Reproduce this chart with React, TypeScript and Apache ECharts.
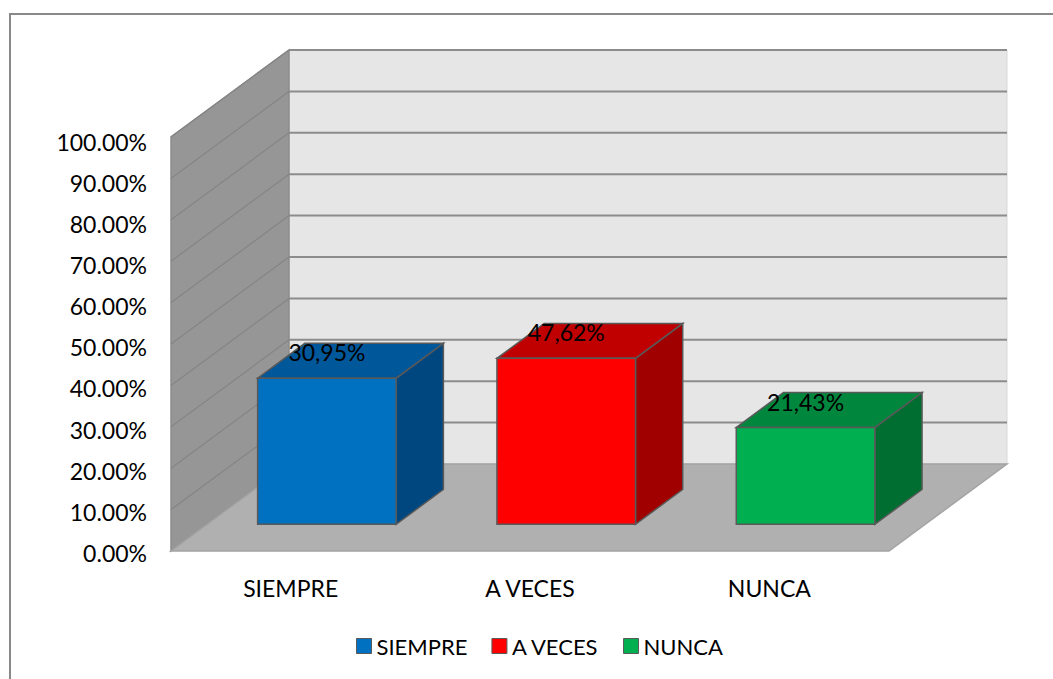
import React, { useEffect, useRef } from "react";
import * as echarts from "echarts";

// ---- data ----
const CATEGORIES: string[] = ["SIEMPRE", "A VECES", "NUNCA"];
const VALUES: number[] = [35.3, 40.1, 23.4];
const LABELS: string[] = ["30,95%", "47,62%", "21,43%"];
const Y_TICKS: number[] = [0, 10, 20, 30, 40, 50, 60, 70, 80, 90, 100];

// ---- styles ----
const FRONT_COLORS = ["#0070C0", "#FF0000", "#00B050"];
const TOP_COLORS = ["#00579A", "#C00000", "#00873D"];
const SIDE_COLORS = ["#00477F", "#A00000", "#006E30"];
const FONT = "Lato, 'Open Sans', sans-serif";
const FONT_SIZE = 23;
const DX = 118; // depth projection
const DY = 87;
const BAR_FRONT = 0.307;
const BAR_BACK = 0.707;
const BAR_WIDTH = 0.579;

export default function App() {
  const ref = useRef<HTMLDivElement>(null);

  useEffect(() => {
    document.body.style.margin = "0";
    if (!ref.current) return;
    const chart = echarts.init(ref.current, undefined, { renderer: "svg" });

    const wallsSeries: any = {
      type: "custom",
      name: "walls",
      coordinateSystem: "cartesian2d",
      xAxisIndex: 0,
      yAxisIndex: 0,
      silent: true,
      clip: false,
      z: 1,
      data: [[0, 0]],
      renderItem: (params: any, api: any) => {
        const cs = params.coordSys;
        const x0 = cs.x;
        const x1 = cs.x + cs.width;
        const yOf = (v: number) => api.coord([0, v])[1];
        const yb = yOf(0);
        const yt = yOf(100);
        const children: any[] = [];
        // back wall
        children.push({
          type: "polygon",
          shape: {
            points: [
              [x0 + DX, yt - DY],
              [x1 + DX, yt - DY],
              [x1 + DX, yb - DY],
              [x0 + DX, yb - DY],
            ],
          },
          style: { fill: "#E6E6E6", stroke: "#D9D9D9", lineWidth: 1 },
        });
        // left wall
        children.push({
          type: "polygon",
          shape: {
            points: [
              [x0, yb],
              [x0, yt],
              [x0 + DX, yt - DY],
              [x0 + DX, yb - DY],
            ],
          },
          style: { fill: "#969696", stroke: "#8C8C8C", lineWidth: 1.5 },
        });
        // floor
        children.push({
          type: "polygon",
          shape: {
            points: [
              [x0, yb],
              [x1, yb],
              [x1 + DX, yb - DY],
              [x0 + DX, yb - DY],
            ],
          },
          style: { fill: "#B0B0B0", stroke: "#A3A3A3", lineWidth: 1.5 },
        });
        // gridlines
        Y_TICKS.forEach((t) => {
          if (t === 0) return;
          const y = yOf(t);
          children.push({
            type: "line",
            shape: { x1: x0 + DX, y1: y - DY, x2: x1 + DX, y2: y - DY },
            style: { stroke: "#8C8C8C", lineWidth: 2 },
          });
          children.push({
            type: "line",
            shape: { x1: x0, y1: y, x2: x0 + DX, y2: y - DY },
            style: { stroke: "#858585", lineWidth: 1.2 },
          });
        });
        return { type: "group", children };
      },
    };

    const barSeries = CATEGORIES.map((name, i) => ({
      type: "custom",
      name,
      coordinateSystem: "cartesian2d",
      xAxisIndex: 0,
      yAxisIndex: 0,
      clip: false,
      z: 2,
      itemStyle: { color: FRONT_COLORS[i] },
      data: [[i, VALUES[i]]],
      renderItem: (params: any, api: any) => {
        const idx = api.value(0);
        const v = api.value(1);
        const base = api.coord([idx, 0]);
        const top = api.coord([idx, v]);
        const band = api.size([1, 0])[0];
        const w = band * BAR_WIDTH;
        const xl = base[0] - w / 2;
        const xr = base[0] + w / 2;
        const fx = DX * BAR_FRONT;
        const fy = DY * BAR_FRONT;
        const bx = DX * BAR_BACK;
        const by = DY * BAR_BACK;
        const y0 = base[1];
        const y1 = top[1];
        const stroke = "#595959";
        return {
          type: "group",
          children: [
            {
              type: "polygon",
              shape: {
                points: [
                  [xr + fx, y0 - fy],
                  [xr + fx, y1 - fy],
                  [xr + bx, y1 - by],
                  [xr + bx, y0 - by],
                ],
              },
              style: { fill: SIDE_COLORS[i], stroke, lineWidth: 1.5 },
            },
            {
              type: "polygon",
              shape: {
                points: [
                  [xl + fx, y1 - fy],
                  [xr + fx, y1 - fy],
                  [xr + bx, y1 - by],
                  [xl + bx, y1 - by],
                ],
              },
              style: { fill: TOP_COLORS[i], stroke, lineWidth: 1.5 },
            },
            {
              type: "polygon",
              shape: {
                points: [
                  [xl + fx, y0 - fy],
                  [xr + fx, y0 - fy],
                  [xr + fx, y1 - fy],
                  [xl + fx, y1 - fy],
                ],
              },
              style: { fill: FRONT_COLORS[i], stroke, lineWidth: 1.5 },
            },
            {
              type: "text",
              x: base[0] + fx,
              y: y1 - by + 9,
              style: {
                text: LABELS[i],
                fill: "#000000",
                font: `${FONT_SIZE}px ${FONT}`,
                align: "center",
                verticalAlign: "middle",
              },
            },
          ],
        };
      },
    }));

    const option: any = {
      animation: false,
      backgroundColor: "#FFFFFF",
      grid: [
        { left: 171, right: 164, top: 137, bottom: 128 },
        { left: 171, right: 164, top: 141.5, bottom: 126 },
      ],
      xAxis: [
        {
          gridIndex: 0,
          type: "category",
          data: CATEGORIES,
          axisLine: { show: false },
          axisTick: { show: false },
          axisLabel: {
            margin: 25,
            color: "#000000",
            fontFamily: FONT,
            fontSize: FONT_SIZE,
            lineHeight: FONT_SIZE,
          },
          splitLine: { show: false },
        },
        { gridIndex: 1, type: "category", data: CATEGORIES, show: false },
      ],
      yAxis: [
        { gridIndex: 0, type: "value", min: 0, max: 100, interval: 10, show: false },
        {
          gridIndex: 1,
          type: "value",
          min: 0,
          max: 100,
          interval: 10,
          axisLine: { show: false },
          axisTick: { show: false },
          splitLine: { show: false },
          axisLabel: {
            margin: 24,
            color: "#000000",
            fontFamily: FONT,
            fontSize: FONT_SIZE,
            formatter: (val: number) => val.toFixed(2) + "%",
          },
        },
      ],
      legend: {
        data: CATEGORIES,
        left: 351,
        top: 630,
        icon: "rect",
        itemWidth: 15,
        itemHeight: 15,
        itemGap: 24,
        itemStyle: { borderColor: "#595959", borderWidth: 1 },
        textStyle: {
          color: "#000000",
          fontFamily: FONT,
          fontSize: 22,
          lineHeight: 22,
        },
        selectedMode: false,
      },
      graphic: [
        {
          type: "rect",
          shape: { x: 10, y: 14, width: 1100, height: 700 },
          style: { fill: "none", stroke: "#898989", lineWidth: 2 },
          silent: true,
          z: 100,
        },
      ],
      series: [wallsSeries, ...barSeries],
    };

    chart.setOption(option);
    return () => chart.dispose();
  }, []);

  return <div ref={ref} style={{ width: 1053, height: 679 }} />;
}
